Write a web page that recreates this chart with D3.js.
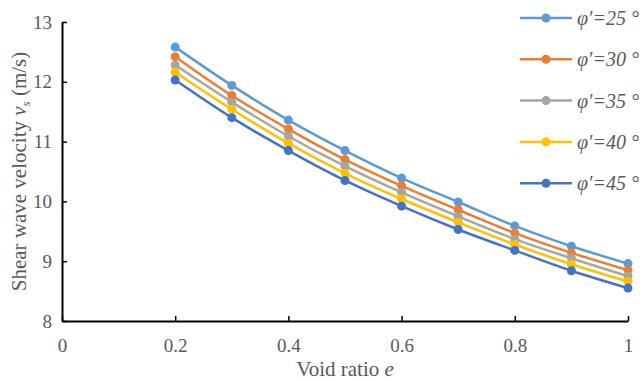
<!DOCTYPE html>
<html>
<head>
<meta charset="utf-8">
<script src="https://cdn.jsdelivr.net/npm/d3@7"></script>
<style>
  body { margin: 0; background: #fff; }
  svg text { font-family: "Liberation Serif", "DejaVu Serif", serif; }
</style>
</head>
<body>
<div id="chart"></div>
<script>
const voidRatio = [0.2, 0.3, 0.4, 0.5, 0.6, 0.7, 0.8, 0.9, 1.0];
const vs25 = [12.58, 11.94, 11.36, 10.85, 10.39, 9.99, 9.59, 9.25, 8.96];
const vs30 = [12.42, 11.77, 11.21, 10.70, 10.26, 9.86, 9.47, 9.14, 8.85];
const vs35 = [12.28, 11.66, 11.09, 10.59, 10.15, 9.75, 9.37, 9.05, 8.75];
const vs40 = [12.16, 11.54, 10.97, 10.47, 10.04, 9.65, 9.28, 8.95, 8.66];
const vs45 = [12.03, 11.40, 10.85, 10.35, 9.92, 9.53, 9.18, 8.84, 8.55];
const seriesNames = ["φ′=25 °", "φ′=30 °", "φ′=35 °", "φ′=40 °", "φ′=45 °"];
const xTicks = [0, 0.2, 0.4, 0.6, 0.8, 1];
const xTickLabels = ["0", "0.2", "0.4", "0.6", "0.8", "1"];
const yTicks = [8, 9, 10, 11, 12, 13];
const yTickLabels = ["8", "9", "10", "11", "12", "13"];

const colors = ["#5B9BD5", "#ED7D31", "#A5A5A5", "#FFC000", "#4472C4"];
const series = [vs25, vs30, vs35, vs40, vs45].map((vals, i) => ({
  name: seriesNames[i],
  color: colors[i],
  points: vals.map((v, j) => ({ e: voidRatio[j], v }))
}));

const W = 643, H = 382;
const margin = { top: 22, left: 62 };
const width = 628 - margin.left;
const height = 321 - margin.top;
const serif = '"Liberation Serif", "Times New Roman", serif';

const svg = d3.select('#chart').append('svg')
  .attr('width', W)
  .attr('height', H);

const g = svg.append('g')
  .attr('transform', `translate(${margin.left},${margin.top})`);

const x = d3.scaleLinear().domain([0, 1]).range([0, width]);
const y = d3.scaleLinear().domain([8, 13]).range([height, 0]);

// axes, ticks pointing inward
const xAxis = g.append('g')
  .attr('transform', `translate(0,${height})`)
  .call(d3.axisBottom(x).tickValues(xTicks)
    .tickFormat((d, i) => xTickLabels[i])
    .tickSizeInner(-5).tickSizeOuter(0).tickPadding(18));

const yAxis = g.append('g')
  .call(d3.axisLeft(y).tickValues(yTicks)
    .tickFormat((d, i) => yTickLabels[i])
    .tickSizeInner(-5).tickSizeOuter(0).tickPadding(10));

[xAxis, yAxis].forEach(a => {
  a.attr('font-family', serif);
  a.select('.domain').attr('stroke', '#000').attr('stroke-width', 2);
  a.selectAll('.tick line').attr('stroke', '#000').attr('stroke-width', 1.5);
  a.selectAll('.tick text')
    .attr('fill', '#595959')
    .attr('font-family', serif)
    .attr('font-size', 19);
});
xAxis.selectAll('.tick text').attr('dy', '0.71em');

// axis titles
const xt = svg.append('text')
  .attr('x', 345)
  .attr('y', 376)
  .attr('text-anchor', 'middle')
  .attr('fill', '#595959')
  .attr('font-family', serif)
  .attr('font-size', 21);
xt.append('tspan').text('Void ratio ');
xt.append('tspan').attr('font-style', 'italic').text('e');

const yt = svg.append('text')
  .attr('transform', `translate(26,${margin.top + height / 2}) rotate(-90)`)
  .attr('text-anchor', 'middle')
  .attr('fill', '#595959')
  .attr('font-family', serif)
  .attr('font-size', 21);
yt.append('tspan').text('Shear wave velocity ');
yt.append('tspan').attr('font-style', 'italic').text('v');
yt.append('tspan').attr('font-style', 'italic').attr('dy', 4)
  .attr('font-size', 13).text('s');
yt.append('tspan').attr('dy', -4).text(' (m/s)');

// series
const line = d3.line()
  .x(d => x(d.e))
  .y(d => y(d.v))
  .curve(d3.curveCatmullRom.alpha(0.5));

const sg = g.selectAll('.series')
  .data(series)
  .enter().append('g')
  .attr('class', 'series');

sg.append('path')
  .attr('fill', 'none')
  .attr('stroke', d => d.color)
  .attr('stroke-width', 2.5)
  .attr('d', d => line(d.points));

sg.selectAll('circle')
  .data(d => d.points.map(p => ({ ...p, color: d.color })))
  .enter().append('circle')
  .attr('cx', d => x(d.e))
  .attr('cy', d => y(d.v))
  .attr('r', 4.5)
  .attr('fill', d => d.color);

// legend
const legend = svg.append('g')
  .attr('transform', 'translate(520,18)');

const item = legend.selectAll('.item')
  .data(series)
  .enter().append('g')
  .attr('class', 'item')
  .attr('transform', (d, i) => `translate(0,${i * 41.3})`);

item.append('line')
  .attr('x1', 0).attr('x2', 52)
  .attr('stroke', d => d.color)
  .attr('stroke-width', 2.5);

item.append('circle')
  .attr('cx', 26)
  .attr('r', 4.5)
  .attr('fill', d => d.color);

item.append('text')
  .attr('x', 57)
  .attr('dy', '0.35em')
  .attr('fill', '#595959')
  .attr('font-family', serif)
  .attr('font-style', 'italic')
  .attr('font-size', 20)
  .text(d => d.name);
</script>
</body>
</html>
